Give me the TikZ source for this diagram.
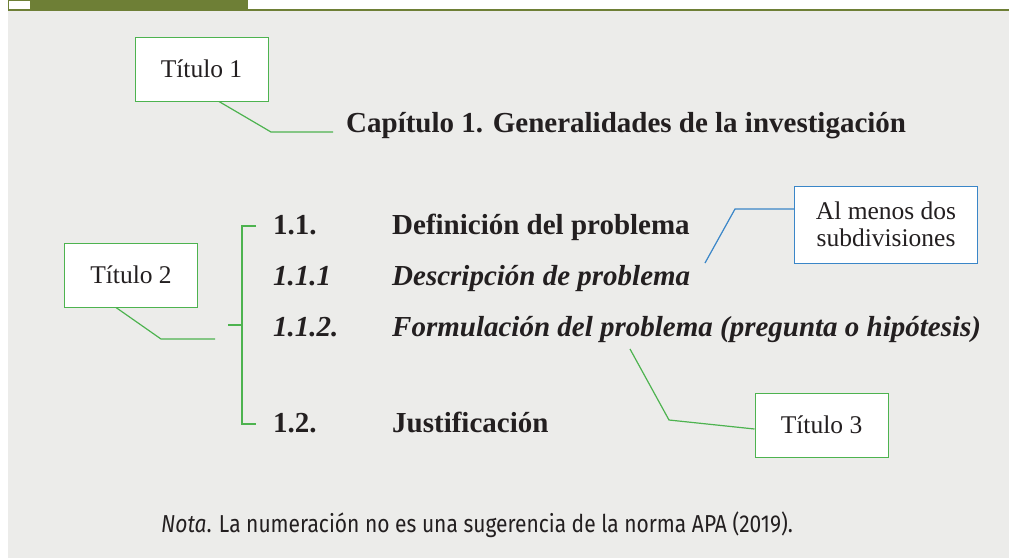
\documentclass[tikz,border=0pt]{standalone}
\usepackage{fontspec}
\setmainfont{Liberation Serif}
\newfontfamily\notafont{Fira Sans}
\usetikzlibrary{positioning}
\definecolor{olivo}{HTML}{6E7F36}
\definecolor{fondo}{HTML}{ECECEA}
\definecolor{verde}{HTML}{4DB34F}
\definecolor{azul}{HTML}{3A86C8}
\definecolor{tinta}{HTML}{231F20}
\begin{document}
\begin{tikzpicture}[x=1pt,y=-1pt,text=tinta,
    titulo/.style={draw=verde,fill=white,line width=1pt,minimum width=133pt,minimum height=64pt,inner sep=0pt,font=\fontsize{25.5}{28}\selectfont},
    nota box/.style={draw=azul,fill=white,line width=1pt,minimum width=183pt,minimum height=77pt,inner sep=0pt,align=center,font=\fontsize{25.5}{27}\selectfont},
    fila/.style={anchor=base west,inner sep=0pt,font=\fontsize{29}{32}\selectfont\bfseries},
    filai/.style={fila,font=\fontsize{29}{32}\selectfont\bfseries\itshape},
    guia/.style={draw=verde,line width=1.2pt},
    llave/.style={draw=verde,line width=1.8pt}]
    % fondo y cabecera
    \useasboundingbox (0,0) rectangle (1009,558);
    \fill[white] (0,0) rectangle (1009,558);
    \fill[fondo] (8,10) rectangle (1009,558);
    \fill[olivo] (30,0) rectangle (248,10);
    \draw[olivo,line width=1pt] (8.5,0) rectangle (30,10);
    \draw[olivo,line width=1.5pt] (8,10) -- (1009,10);

    % titulos
    \node[titulo] at (201.5,69) (t1) {Título 1};
    \node[titulo] at (131,275) (t2) {Título 2};
    \node[titulo] at (821.5,425) (t3) {Título 3};
    \node[nota box] at (886,224.5) (sub) {Al menos dos\\subdivisiones};

    % texto
    \node[fila] at (346,132) (cap) {Capítulo 1. Generalidades de la investigación};
    \node[fila] at (273,234) (n11) {1.1.};
    \node[fila] at (392,234) (d11) {Definición del problema};
    \node[filai] at (273,285) (n111) {1.1.1};
    \node[filai] at (392,285) (d111) {Descripción de problema};
    \node[filai] at (273,336.5) (n112) {1.1.2.};
    \node[filai] at (392,336.5) (d112) {Formulación del problema (pregunta o hipótesis)};
    \node[fila] at (273,432) (n12) {1.2.};
    \node[fila] at (392,432) (d12) {Justificación};
    \node[anchor=base west,inner sep=0pt,font=\notafont\fontsize{24.5}{27}\selectfont] at (161,532) (nota) {\scalebox{0.857}[1]{\textit{Nota}. La numeración no es una sugerencia de la norma APA (2019).}};

    % llave
    \coordinate (ll1) at (256,226);
    \coordinate (ll2) at (256,424);
    \coordinate (llm) at (228,325);
    \draw[llave] (ll1) -- (242,226) -- (242,424) -- (ll2);
    \draw[llave] (llm) -- (242,325);

    % conectores
    \coordinate (c1) at (333,132);
    \coordinate (c2) at (215,339);
    \coordinate (c3) at (630,349);
    \coordinate (c4) at (705,263);
    \draw[guia] ([xshift=17.5pt]t1.south) -- (271,132) -- (c1);
    \draw[guia] ([xshift=-15pt]t2.south) -- (161,339) -- (c2);
    \draw[guia] (c3) -- (669,420) -- ([yshift=-4pt]t3.west);
    \draw[draw=azul,line width=1.2pt] (c4) -- (735,209) -- ([yshift=15.5pt]sub.west);
\end{tikzpicture}
\end{document}
